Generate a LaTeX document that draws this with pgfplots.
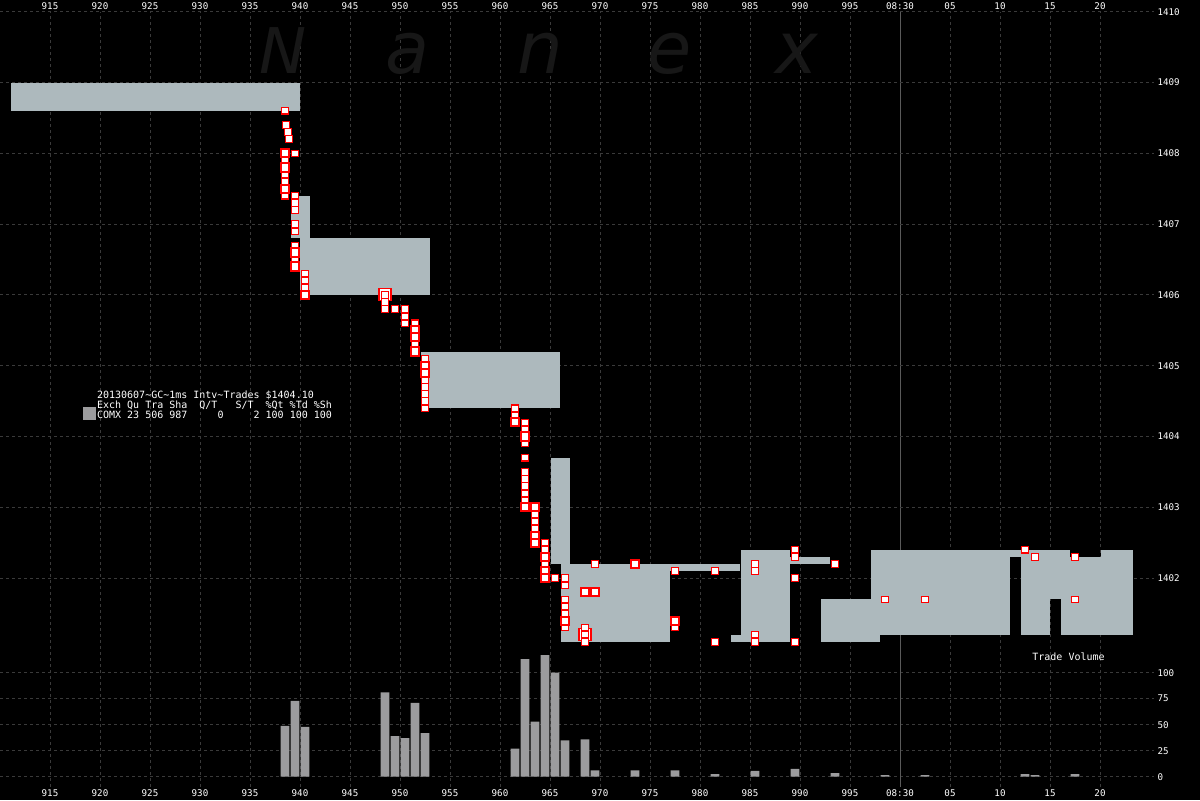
\documentclass[border=0pt]{standalone}
\usepackage{fontspec}
\usepackage{pgfplots}
\pgfplotsset{compat=1.18}
\setmonofont{DejaVu Sans Mono}
\newfontfamily\wmfont{DejaVu Sans}
\definecolor{quote}{HTML}{ADB9BD}
\definecolor{vol}{HTML}{9C9C9E}
\definecolor{gridc}{HTML}{3A3A3A}
\definecolor{wm}{HTML}{171717}
\definecolor{tred}{HTML}{FF0000}
\definecolor{linec}{HTML}{5A5A5A}
\newcommand\tickfont{\ttfamily\fontsize{4.6}{5}\selectfont}
\newcommand\legfont{\ttfamily\fontsize{5}{5}\selectfont}
\pgfplotsset{
  base/.style={
    at={(0pt,6.5pt)}, anchor=south west,
    scale only axis, width=577pt, height=387.65pt,
    xmin=910, xmax=1025.4,
    axis line style={draw=none},
    major tick length=0pt,
    tick style={draw=none},
    xtick={915,920,...,1020},
    xticklabels={915,920,925,930,935,940,945,950,955,960,965,970,975,980,985,990,995,08:30,05,10,15,20},
    tick label style={font=\tickfont, text=white, inner sep=1pt},
    yticklabel pos=right,
    yticklabel style={inner sep=1.6pt},
    grid style={gridc, dash pattern=on 1.5pt off 1.5pt, line width=0.5pt},
    clip=false,
  },
  tradeN/.style={only marks, mark=square*, mark size=1.6pt, mark options={fill=white, draw=tred, line width=0.55pt}},
  tradeB/.style={only marks, mark=square*, mark size=2.05pt, mark options={fill=white, draw=tred, line width=1pt}},
  tradeX/.style={only marks, mark=square*, mark size=3.0pt, mark options={fill=white, draw=tred, line width=0.55pt}},
}
\begin{document}
\begin{tikzpicture}
\fill[black] (0,0) rectangle (600pt,400pt);
% ---------- volume axis (bottom labels, x grid) ----------
\begin{axis}[base,
  ymin=-9.9, ymax=735.6,
  ytick={0,25,50,75,100}, yticklabels={0,25,50,75,100},
  xticklabel pos=lower,
  xmajorgrids=true, ymajorgrids=true]
\addplot[color=linec, line width=0.5pt] coordinates {(1000,-9.9)(1000,735.6)};
\addplot[ybar, bar width=0.86, fill=vol, draw=none] coordinates {
(938.5,49)(939.5,73)(940.5,48)(948.5,81)(949.5,39)(950.5,37)(951.5,71)(952.5,42)
(961.5,27)(962.5,113)(963.5,53)(964.5,117)(965.5,100)(966.5,35)(968.5,36)(969.5,6)
(973.5,6)(977.5,6)(981.5,2.5)(985.5,5.5)(989.5,7.5)(993.5,3.5)(998.5,1.5)(1002.5,1.5)
(1012.5,2.5)(1013.5,1.5)(1017.5,2.5)};
\node[anchor=base west, inner sep=0pt, text=white, font=\legfont] at (axis cs:1013.2,111.5) {Trade Volume};
\end{axis}
% ---------- price axis (top labels) ----------
\begin{axis}[base,
  ymin=1399.05, ymax=1410,
  ytick={1402,1403,1404,1405,1406,1407,1408,1409,1410},
  yticklabels={1402,1403,1404,1405,1406,1407,1408,1409,1410},
  xticklabel pos=upper,
  xmajorgrids=false, ymajorgrids=true]
% watermark
\node[anchor=base, inner sep=0pt, text=wm, font=\wmfont\itshape\fontsize{31.5}{32}\selectfont] at (axis cs:938.3,1409.13) {N};
\node[anchor=base, inner sep=0pt, text=wm, font=\wmfont\itshape\fontsize{36}{36}\selectfont] at (axis cs:950.8,1409.13) {a};
\node[anchor=base, inner sep=0pt, text=wm, font=\wmfont\itshape\fontsize{36}{36}\selectfont] at (axis cs:964.0,1409.13) {n};
\node[anchor=base, inner sep=0pt, text=wm, font=\wmfont\itshape\fontsize{36}{36}\selectfont] at (axis cs:977.0,1409.13) {e};
\node[anchor=base, inner sep=0pt, text=wm, font=\wmfont\itshape\fontsize{36}{36}\selectfont] at (axis cs:989.7,1409.13) {x};
% quotes
\addplot[fill=quote, draw=none] coordinates {(911.1,1408.6)(940.0,1408.6)(940.0,1409.0)(911.1,1409.0)} --cycle;
\addplot[fill=quote, draw=none] coordinates {(939.1,1406.8)(941.0,1406.8)(941.0,1407.4)(939.1,1407.4)} --cycle;
\addplot[fill=quote, draw=none] coordinates {(940.0,1406.0)(953.0,1406.0)(953.0,1406.8)(940.0,1406.8)} --cycle;
\addplot[fill=quote, draw=none] coordinates {(952.1,1404.4)(966.0,1404.4)(966.0,1405.2)(952.1,1405.2)} --cycle;
\addplot[fill=quote, draw=none] coordinates {(965.1,1402.2)(967.0,1402.2)(967.0,1403.7)(965.1,1403.7)} --cycle;
\addplot[fill=quote, draw=none] coordinates {(966.1,1401.1)(977.0,1401.1)(977.0,1402.2)(966.1,1402.2)} --cycle;
\addplot[fill=quote, draw=none] coordinates {(977.0,1402.1)(984.0,1402.1)(984.0,1402.2)(977.0,1402.2)} --cycle;
\addplot[fill=quote, draw=none] coordinates {(984.1,1401.1)(989.0,1401.1)(989.0,1402.4)(984.1,1402.4)} --cycle;
\addplot[fill=quote, draw=none] coordinates {(983.1,1401.1)(984.1,1401.1)(984.1,1401.2)(983.1,1401.2)} --cycle;
\addplot[fill=quote, draw=none] coordinates {(989.0,1402.2)(993.0,1402.2)(993.0,1402.3)(989.0,1402.3)} --cycle;
\addplot[fill=quote, draw=none] coordinates {(992.1,1401.1)(998.0,1401.1)(998.0,1401.7)(992.1,1401.7)} --cycle;
\addplot[fill=quote, draw=none] coordinates {(997.1,1401.2)(1011.0,1401.2)(1011.0,1402.4)(997.1,1402.4)} --cycle;
\addplot[fill=quote, draw=none] coordinates {(1011.0,1402.3)(1012.1,1402.3)(1012.1,1402.4)(1011.0,1402.4)} --cycle;
\addplot[fill=quote, draw=none] coordinates {(1012.1,1401.2)(1015.0,1401.2)(1015.0,1402.4)(1012.1,1402.4)} --cycle;
\addplot[fill=quote, draw=none] coordinates {(1015.0,1401.7)(1016.1,1401.7)(1016.1,1402.4)(1015.0,1402.4)} --cycle;
\addplot[fill=quote, draw=none] coordinates {(1016.1,1401.2)(1017.0,1401.2)(1017.0,1402.4)(1016.1,1402.4)} --cycle;
\addplot[fill=quote, draw=none] coordinates {(1017.0,1401.2)(1020.1,1401.2)(1020.1,1402.3)(1017.0,1402.3)} --cycle;
\addplot[fill=quote, draw=none] coordinates {(1020.1,1401.2)(1023.3,1401.2)(1023.3,1402.4)(1020.1,1402.4)} --cycle;
% trades
\addplot[tradeX] coordinates {(948.5,1406.0)(968.5,1401.2)};
\addplot[tradeN] coordinates {
(938.5,1408.6)(938.6,1408.4)(938.8,1408.3)(938.9,1408.2)(939.5,1408.0)(938.5,1407.9)(938.5,1407.7)(938.5,1407.6)
(938.5,1407.4)(939.5,1407.4)(939.5,1407.3)(939.5,1407.2)(939.5,1407.0)(939.5,1406.9)(939.5,1406.7)(939.5,1406.5)
(940.5,1406.3)(940.5,1406.2)(940.5,1406.1)(948.5,1406.0)(948.5,1405.9)(948.5,1405.8)(949.5,1405.8)(950.5,1405.8)
(950.5,1405.7)(950.5,1405.6)(951.5,1405.6)(951.5,1405.3)(952.5,1405.1)(952.5,1404.8)(952.5,1404.7)(952.5,1404.6)
(952.5,1404.5)(952.5,1404.4)(961.5,1404.4)(961.5,1404.3)(962.5,1404.2)(962.5,1404.1)(962.5,1403.9)(962.5,1403.7)
(962.5,1403.5)(962.5,1403.4)(962.5,1403.3)(962.5,1403.2)(962.5,1403.1)(963.5,1402.9)(963.5,1402.8)(963.5,1402.7)
(964.5,1402.5)(964.5,1402.4)(964.5,1402.2)(965.5,1402.0)(966.5,1402.0)(966.5,1401.9)(969.5,1402.2)(966.5,1401.7)
(966.5,1401.6)(966.5,1401.5)(966.5,1401.3)(968.5,1401.3)(968.5,1401.2)(968.5,1401.1)(977.5,1402.1)(981.5,1402.1)
(985.5,1402.2)(985.5,1402.1)(989.5,1402.4)(989.5,1402.3)(989.5,1402.0)(993.5,1402.2)(977.5,1401.3)(981.5,1401.1)
(985.5,1401.2)(985.5,1401.1)(989.5,1401.1)(998.5,1401.7)(1002.5,1401.7)(1012.5,1402.4)(1013.5,1402.3)(1017.5,1402.3)
(1017.5,1401.7)};
\addplot[tradeB] coordinates {
(938.5,1408.0)(938.5,1407.8)(938.5,1407.5)(939.5,1406.6)(939.5,1406.4)(940.5,1406.0)(951.5,1405.5)(951.5,1405.4)
(951.5,1405.2)(952.5,1405.0)(952.5,1404.9)(961.5,1404.2)(962.5,1404.0)(962.5,1403.0)(963.5,1403.0)(963.5,1402.6)
(963.5,1402.5)(964.5,1402.3)(964.5,1402.1)(964.5,1402.0)(968.5,1401.8)(969.5,1401.8)(966.5,1401.4)(973.5,1402.2)
(977.5,1401.4)};
\end{axis}
% legend block
\fill[vol] (41.5pt,190pt) rectangle (48pt,196.5pt);
\node[anchor=base west, inner sep=0pt, text=white, font=\legfont] at (48.35pt,201pt) {20130607\textasciitilde GC\textasciitilde 1ms Intv\textasciitilde Trades \$1404.10};
\node[anchor=base west, inner sep=0pt, text=white, font=\legfont] at (48.35pt,196pt) {Exch Qu Tra Sha\ \ Q/T\ \ \ S/T\ \ \%Qt \%Td \%Sh};
\node[anchor=base west, inner sep=0pt, text=white, font=\legfont] at (48.35pt,191pt) {COMX 23 506 987\ \ \ \ \ 0\ \ \ \ \ 2 100 100 100};
\pgfresetboundingbox
\useasboundingbox (0,0) rectangle (600pt,400pt);
\end{tikzpicture}
\end{document}
